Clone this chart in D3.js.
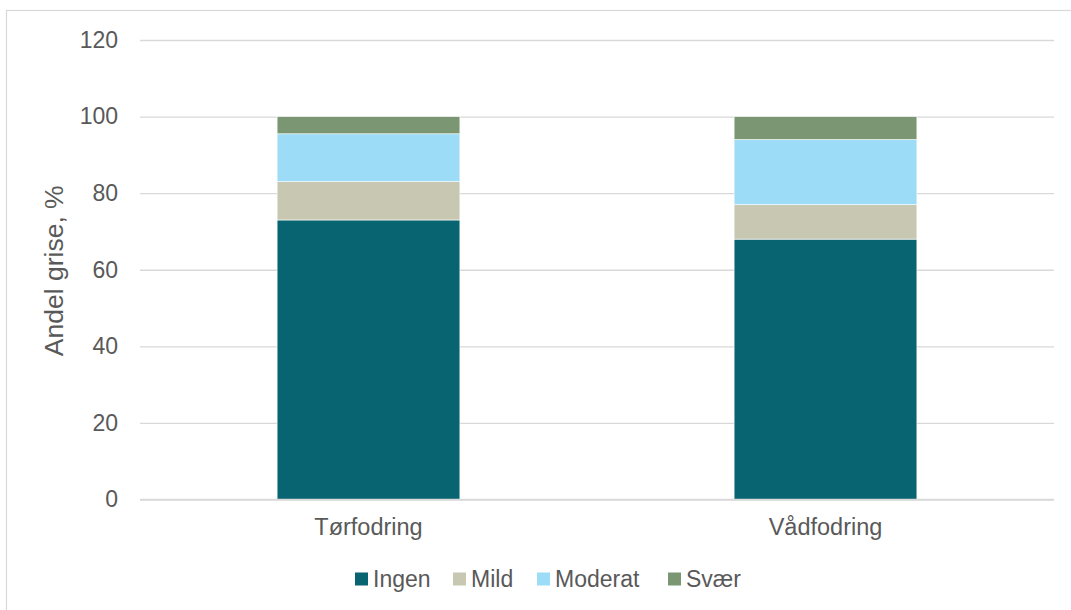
<!DOCTYPE html>
<html><head><meta charset="utf-8">
<script src="https://cdn.jsdelivr.net/npm/d3@7"></script>
<style>body{margin:0;background:#fff;}svg{display:block;font-family:"Liberation Sans",Arial,sans-serif;}</style>
</head><body>
<script>
const categories = ["Tørfodring", "Vådfodring"];
const seriesNames = ["Ingen", "Mild", "Moderat", "Svær"];
const ingen = [73, 68];
const mild = [10, 9];
const moderat = [12.5, 17];
const svaer = [4.5, 6];
const yTicks = [0, 20, 40, 60, 80, 100, 120];
const colors = ["#086470", "#c8c7b1", "#9cdcf7", "#7a9673"];

const W = 1071, H = 610;
const svg = d3.select("body").append("svg").attr("width", W).attr("height", H);
svg.append("rect").attr("x", 6.5).attr("y", 10.5).attr("width", W + 10).attr("height", H + 10)
  .attr("fill", "#fff").attr("stroke", "#d9d9d9").attr("stroke-width", 1.2);

const plot = {left: 140, right: 1054, top: 40, bottom: 499.5};
const y = d3.scaleLinear().domain([0, 120]).range([plot.bottom, plot.top]);
const x = d3.scaleBand().domain(categories).range([plot.left, plot.right]).padding(0);
const barW = x.bandwidth() * 0.4;

// gridlines
const gAxis = svg.append("g").attr("transform", `translate(${plot.left},0)`)
  .call(d3.axisLeft(y).tickValues(yTicks).tickSize(-(plot.right - plot.left)).tickPadding(22));
gAxis.select(".domain").remove();
gAxis.selectAll(".tick line").attr("stroke", "#d9d9d9").attr("stroke-width", 1.3);
gAxis.selectAll(".tick text").attr("fill", "#595959").style("font-size", "23px");

const data = categories.map((c, i) => ({cat: c, Ingen: ingen[i], Mild: mild[i], Moderat: moderat[i], "Svær": svaer[i]}));
const stack = d3.stack().keys(seriesNames)(data);
svg.append("g").selectAll("g").data(stack).join("g").attr("fill", (d, i) => colors[i])
  .selectAll("rect").data(d => d).join("rect")
  .attr("x", d => x(d.data.cat) + (x.bandwidth() - barW) / 2)
  .attr("width", barW)
  .attr("y", d => y(d[1]))
  .attr("height", d => y(d[0]) - y(d[1]))
  .attr("stroke", "#ffffff").attr("stroke-width", 0.6);

// x axis line
svg.append("line").attr("x1", plot.left).attr("x2", plot.right).attr("y1", plot.bottom).attr("y2", plot.bottom)
  .attr("stroke", "#d9d9d9").attr("stroke-width", 1.3);
svg.append("g").selectAll("text").data(categories).join("text")
  .attr("x", d => x(d) + x.bandwidth() / 2).attr("y", 535)
  .attr("text-anchor", "middle").attr("fill", "#595959").style("font-size", "23.5px").text(d => d);

// y title
svg.append("text").attr("transform", `translate(63,${(plot.top + plot.bottom) / 2 + 1}) rotate(-90)`)
  .attr("text-anchor", "middle").attr("fill", "#595959").style("font-size", "26.5px").text("Andel grise, %");

// legend
const legX = [355, 453, 537, 668];
const leg = svg.append("g").selectAll("g").data(seriesNames).join("g")
  .attr("transform", (d, i) => `translate(${legX[i]},572.5)`);
leg.append("rect").attr("width", 13).attr("height", 13).attr("fill", (d, i) => colors[i]);
leg.append("text").attr("x", 18).attr("y", 14.5).attr("fill", "#595959").style("font-size", "23px").text(d => d);
</script>
</body></html>
